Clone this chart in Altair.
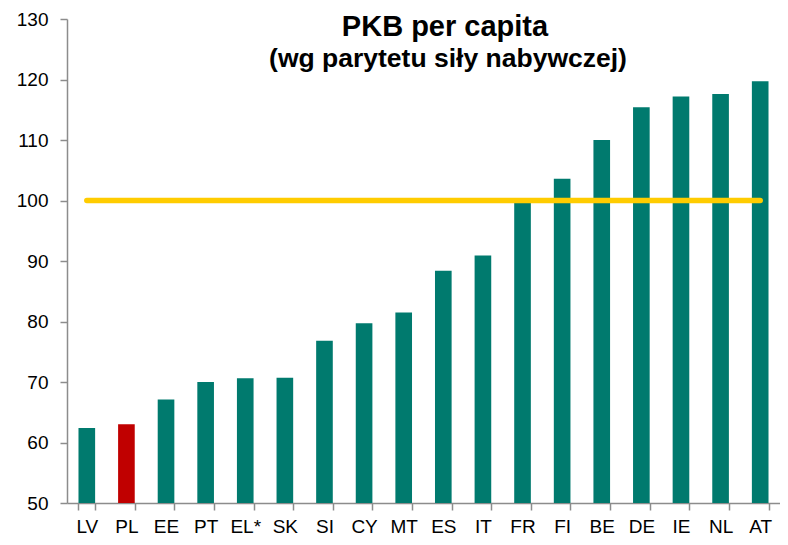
import altair as alt
import pandas as pd

countries = ["LV", "PL", "EE", "PT", "EL*", "SK", "SI", "CY", "MT", "ES",
             "IT", "FR", "FI", "BE", "DE", "IE", "NL", "AT"]
values = [62.4, 63.0, 67.1, 70.0, 70.6, 70.7, 76.8, 79.7, 81.5, 88.4,
          90.9, 99.7, 103.6, 110.0, 115.4, 117.2, 117.6, 119.7]
highlight = "PL"
eu_average = 100
y_ticks = [50, 60, 70, 80, 90, 100, 110, 120, 130]
title_text = "PKB per capita"
subtitle_text = "(wg parytetu siły nabywczej)"

TEAL = "#007A6E"
RED = "#C00000"
YELLOW = "#FFCC00"
AXIS_GREY = "#8C8C8C"
FONT = "Liberation Sans"

df = pd.DataFrame({
    "country": countries,
    "value": values,
    "group": ["hl" if c == highlight else "other" for c in countries],
})
ref = pd.DataFrame({"country": countries, "ref": [eu_average] * len(countries)})
titles = pd.DataFrame({"t": [title_text], "s": [subtitle_text]})

W, H = 713, 484

x_enc = alt.X(
    "country:N", sort=countries,
    scale=alt.Scale(paddingInner=0.58, paddingOuter=0.29),
    axis=alt.Axis(
        title=None, labelAngle=0, labelFontSize=19, labelColor="black",
        labelFont=FONT, labelPadding=7, tickBand="extent", tickSize=7,
        tickColor=AXIS_GREY, tickWidth=1.5, domainColor=AXIS_GREY,
        domainWidth=1.5, grid=False,
    ),
)
y_scale = alt.Scale(domain=[50, 130], nice=False, zero=False)
y_axis = alt.Axis(
    title=None, values=y_ticks, labelFontSize=19, labelColor="black",
    labelFont=FONT, labelPadding=12, tickSize=7, tickColor=AXIS_GREY,
    tickWidth=1.5, domainColor=AXIS_GREY, domainWidth=1.5, grid=False,
)

bars = alt.Chart(df).mark_bar().encode(
    x=x_enc,
    y=alt.Y("value:Q", scale=y_scale, axis=y_axis),
    y2=alt.datum(50),
    color=alt.Color("group:N", scale=alt.Scale(domain=["hl", "other"], range=[RED, TEAL]), legend=None),
)

line = alt.Chart(ref).mark_line(color=YELLOW, strokeWidth=5.5, strokeCap="round").encode(
    x=alt.X("country:N", sort=countries),
    y=alt.Y("ref:Q"),
)

title = alt.Chart(titles).mark_text(
    font=FONT, fontSize=29, fontWeight="bold", color="black",
    align="center", baseline="alphabetic",
).encode(x=alt.value(378), y=alt.value(17), text="t:N")

subtitle = alt.Chart(titles).mark_text(
    font=FONT, fontSize=26.5, fontWeight="bold", color="black",
    align="center", baseline="alphabetic",
).encode(x=alt.value(381), y=alt.value(48), text="s:N")

chart = alt.layer(bars, line, title, subtitle).properties(
    width=W, height=H,
    autosize=alt.AutoSizeParams(type="none"),
    padding={"left": 59, "top": 11, "right": 0, "bottom": 34},
).configure_view(stroke=None)

chart.save("out.html", embed_options={"renderer": "svg", "actions": False})
